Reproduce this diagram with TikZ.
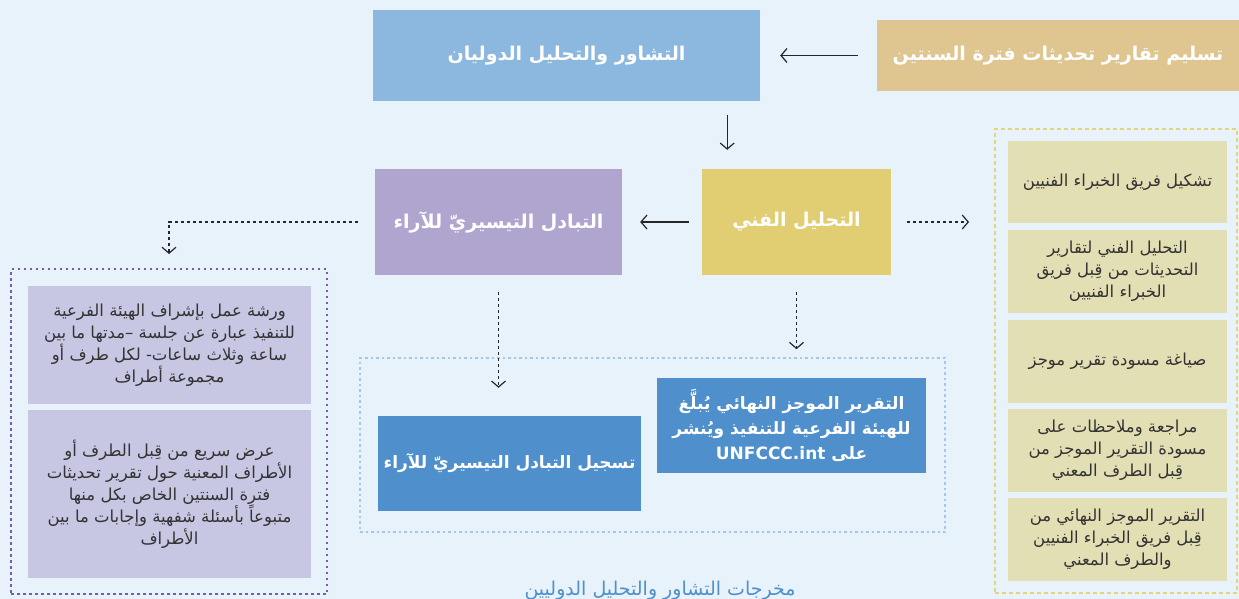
\documentclass[tikz,border=0pt]{standalone}
\usepackage{fontspec}
\usetikzlibrary{arrows.meta,calc}
\TeXXeTstate=1
\newfontfamily\arabicfont[Script=Arabic]{DejaVu Sans}
\newcommand{\ar}[1]{\beginR #1\endR}
\definecolor{bg}{HTML}{E8F2FA}
\definecolor{topblue}{HTML}{8CB7DF}
\definecolor{tan}{HTML}{DFC691}
\definecolor{ylw}{HTML}{E1CE72}
\definecolor{lav}{HTML}{B0A5CF}
\definecolor{olive}{HTML}{E3DFB5}
\definecolor{lilac}{HTML}{C7C6E3}
\definecolor{midblue}{HTML}{4F8FCB}
\definecolor{txt}{HTML}{333333}
\definecolor{purpdot}{HTML}{7A5BAA}
\definecolor{ylwdot}{HTML}{E2D57A}
\definecolor{bluedot}{HTML}{A5C8E8}
\tikzset{
  box/.style={rectangle, inner sep=0pt, align=center},
  title/.style={box, text=white, font=\arabicfont\bfseries\fontsize{19}{24}\selectfont},
  outtitle/.style={box, text=white, font=\arabicfont\bfseries\fontsize{17}{25}\selectfont},
  body/.style={box, text=txt, font=\arabicfont\fontsize{16.5}{22}\selectfont},
  solidarr/.style={draw=black!85, line width=1.2pt, -{Straight Barb[length=6pt,width=14pt]}},
  dotarr/.style={draw=black!85, line width=1.2pt, dash pattern=on 3pt off 3pt, -{Straight Barb[length=6pt,width=14pt]}},
  grp/.style={rectangle, inner sep=0pt, line width=2pt}
}
\begin{document}
\begin{tikzpicture}[x=1pt,y=-1pt]
\fill[bg] (0,0) rectangle (1239,599);
\useasboundingbox (0,0) rectangle (1239,599);
% groups
\node[grp, draw=ylwdot, dash pattern=on 4pt off 3pt, minimum width=242pt, minimum height=464pt] (rgrp) at (1116,361) {};
\node[grp, draw=purpdot, dash pattern=on 2.5pt off 3.5pt, minimum width=316pt, minimum height=325pt] (lgrp) at (169,431.5) {};
\node[grp, draw=bluedot, line width=1.6pt, dash pattern=on 2.5pt off 3pt, minimum width=585pt, minimum height=174pt] (cgrp) at (652.5,445) {};
% main boxes
\node[title, fill=topblue, minimum width=387pt, minimum height=91pt] (consult) at (566.5,55.5) {\ar{التشاور والتحليل الدوليان}};
\node[title, fill=tan, minimum width=362pt, minimum height=71pt] (submit) at (1058,55.5) {\ar{تسليم تقارير تحديثات فترة السنتين}};
\node[title, fill=ylw, minimum width=189pt, minimum height=106pt] (tech) at (796.5,222) {\ar{التحليل الفني}};
\node[title, fill=lav, minimum width=247pt, minimum height=106pt] (fex) at (498.5,222) {\ar{التبادل التيسيريّ للآراء}};
% right column
\node[body, fill=olive, minimum width=219pt, minimum height=82pt] (r1) at (1117.5,182) {\ar{تشكيل فريق الخبراء الفنيين}};
\node[body, fill=olive, minimum width=219pt, minimum height=83pt] (r2) at (1117.5,271.5) {\ar{التحليل الفني لتقارير}\\\ar{التحديثات من قِبل فريق}\\\ar{الخبراء الفنيين}};
\node[body, fill=olive, minimum width=219pt, minimum height=83pt] (r3) at (1117.5,361.5) {\ar{صياغة مسودة تقرير موجز}};
\node[body, fill=olive, minimum width=219pt, minimum height=83pt] (r4) at (1117.5,450.5) {\ar{مراجعة وملاحظات على}\\\ar{مسودة التقرير الموجز من}\\\ar{قِبل الطرف المعني}};
\node[body, fill=olive, minimum width=219pt, minimum height=83pt] (r5) at (1117.5,539.5) {\ar{التقرير الموجز النهائي من}\\\ar{قِبل فريق الخبراء الفنيين}\\\ar{والطرف المعني}};
% left column
\node[body, fill=lilac, minimum width=283pt, minimum height=118pt] (l1) at (169.5,345) {\ar{ورشة عمل بإشراف الهيئة الفرعية}\\\ar{للتنفيذ عبارة عن جلسة –مدتها ما بين}\\\ar{ساعة وثلاث ساعات- لكل طرف أو}\\\ar{مجموعة أطراف}};
\node[body, fill=lilac, minimum width=283pt, minimum height=168pt] (l2) at (169.5,494) {\ar{عرض سريع من قِبل الطرف أو}\\\ar{الأطراف المعنية حول تقرير تحديثات}\\\ar{فترة السنتين الخاص بكل منها}\\\ar{متبوعاً بأسئلة شفهية وإجابات ما بين}\\\ar{الأطراف}};
% outputs
\node[outtitle, fill=midblue, minimum width=263pt, minimum height=95pt] (b1) at (509.5,463.5) {\ar{تسجيل التبادل التيسيريّ للآراء}};
\node[outtitle, fill=midblue, minimum width=269pt, minimum height=95pt] (b2) at (791.5,425.5) {\ar{التقرير الموجز النهائي يُبلَّغ}\\\ar{للهيئة الفرعية للتنفيذ ويُنشر}\\\ar{على \beginL UNFCCC.int\endL}};
\node[box, text=midblue, font=\arabicfont\fontsize{19}{22}\selectfont] (cap) at (660,591) {\ar{مخرجات التشاور والتحليل الدوليين}};
% connectors
\draw[solidarr, shorten <=19pt, shorten >=20pt] (submit.west) -- (consult.east);
\coordinate (cdown) at ($(consult.south east)+(-33,0)$);
\draw[solidarr, shorten <=14pt, shorten >=19pt] (cdown) -- (cdown |- tech.north);
\draw[solidarr, shorten <=13pt, shorten >=18pt] (tech.west) -- (fex.east);
\draw[dotarr, shorten <=16pt, shorten >=25pt] (tech.east) -- (tech.east -| rgrp.west);
\draw[dotarr, shorten <=17pt, shorten >=14pt] (fex.west) -- (fex.west -| lgrp.north) -- (lgrp.north);
\draw[dotarr, shorten <=17pt, shorten >=28pt] (fex.south) -- (fex.south |- b1.north);
\draw[dotarr, shorten <=17pt, shorten >=8pt] (tech.south) -- (tech.south |- cgrp.north);
\end{tikzpicture}
\end{document}
